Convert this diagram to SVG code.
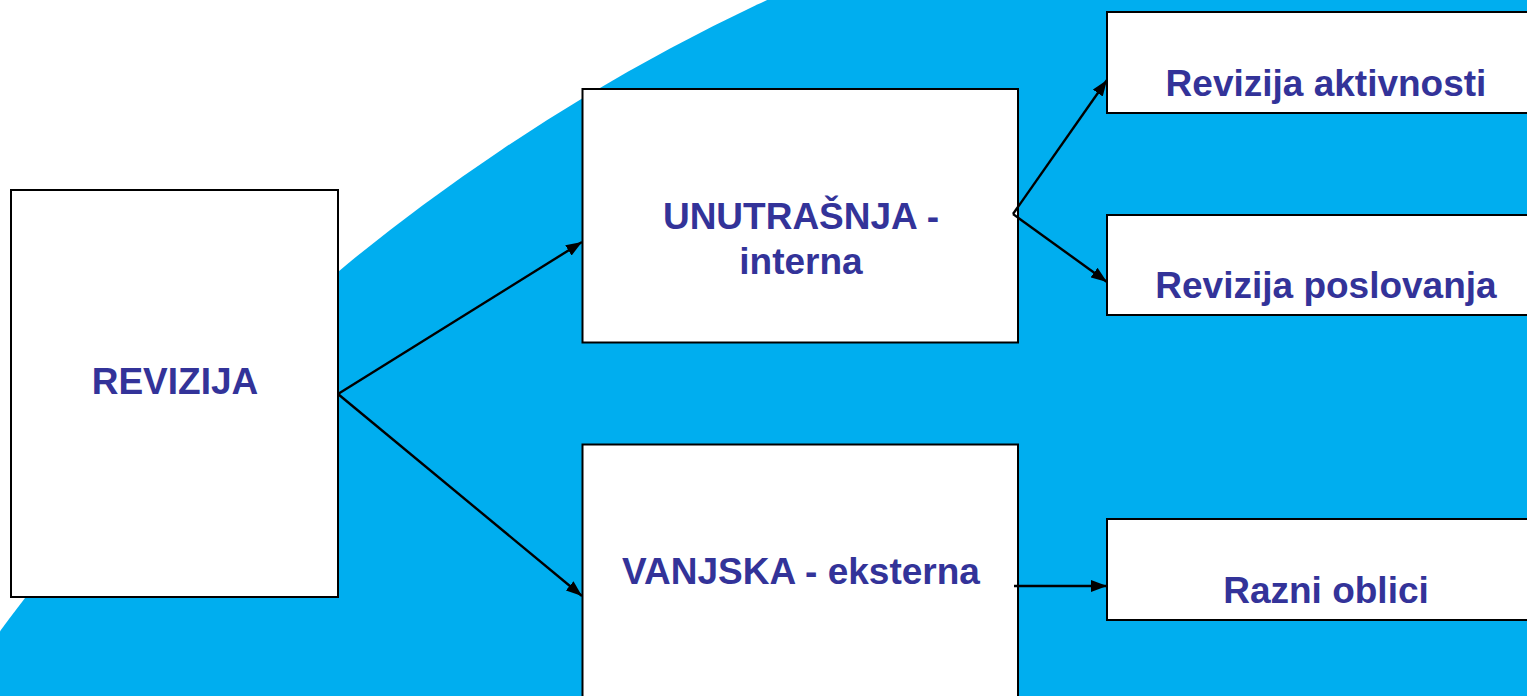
<svg xmlns="http://www.w3.org/2000/svg" width="1527" height="696" viewBox="0 0 1527 696">
<style>
.box{fill:#ffffff;stroke:#000000;stroke-width:2}
.lbl{font-family:"Liberation Sans",Arial,sans-serif;font-weight:bold;font-size:37px;fill:#333399;text-anchor:middle}
.con{stroke:#000000;stroke-width:2.4;fill:none;marker-end:url(#ah)}
</style>
<defs>
<marker id="ah" viewBox="0 0 16 12" refX="16" refY="6" markerUnits="userSpaceOnUse" markerWidth="16" markerHeight="12" orient="auto">
<path d="M0,0 L16,6 L0,12 Z" fill="#000000"/>
</marker>
</defs>
<rect x="0" y="0" width="1527" height="696" fill="#ffffff"/>
<circle cx="1610" cy="1806" r="1993" fill="#00AEEF"/>
<g id="revizija">
<rect class="box" x="11" y="190" width="327" height="407"/>
<text class="lbl" x="175" y="394">REVIZIJA</text>
</g>
<g id="unutrasnja">
<rect class="box" x="582.5" y="89" width="435.5" height="253.5"/>
<text class="lbl" x="801" y="229">UNUTRAŠNJA -</text>
<text class="lbl" x="801" y="274">interna</text>
</g>
<g id="vanjska">
<rect class="box" x="582.5" y="444.5" width="435.5" height="270"/>
<text class="lbl" x="801" y="584">VANJSKA - eksterna</text>
</g>
<g id="aktivnosti">
<rect class="box" x="1107" y="12" width="440" height="101"/>
<text class="lbl" x="1326" y="96">Revizija aktivnosti</text>
</g>
<g id="poslovanja">
<rect class="box" x="1107" y="215" width="440" height="100"/>
<text class="lbl" x="1326" y="298">Revizija poslovanja</text>
</g>
<g id="oblici">
<rect class="box" x="1107" y="519" width="440" height="101"/>
<text class="lbl" x="1326" y="603">Razni oblici</text>
</g>
<g id="connectors">
<path class="con" d="M338,394 L582,242"/>
<path class="con" d="M338,394 L582,596"/>
<path class="con" d="M1013,214 L1107,80"/>
<path class="con" d="M1013,214 L1107,282"/>
<path class="con" d="M1014,586 L1107,586"/>
</g>
</svg>
